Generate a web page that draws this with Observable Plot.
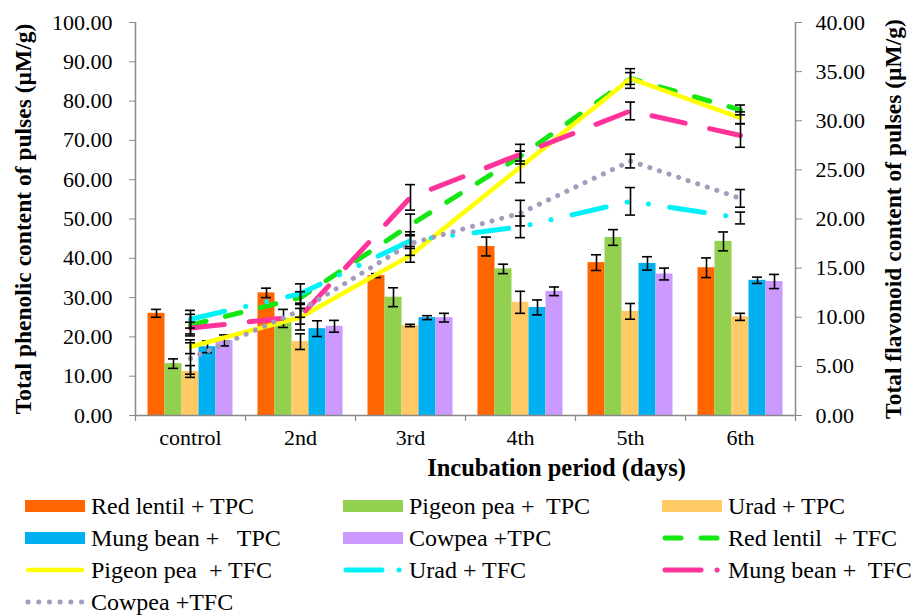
<!DOCTYPE html>
<html>
<head>
<meta charset="utf-8">
<script src="https://cdn.jsdelivr.net/npm/d3@7"></script>
<script src="https://cdn.jsdelivr.net/npm/@observablehq/plot@0.6"></script>
<style>
  html, body { margin: 0; padding: 0; background: #fff; }
  body { position: relative; width: 915px; height: 615px; overflow: hidden; font-family: "Liberation Serif", "Times New Roman", serif; }
  #chart svg { display: block; }
  .item { position: absolute; display: flex; align-items: center; height: 26px; line-height: 26px; font-size: 24px; white-space: pre; color: #000; font-family: "Liberation Serif", "Times New Roman", serif; }
  .item svg { margin-right: 6px; flex: none; }
</style>
</head>
<body>
<div id="chart"></div>
<div id="legend"></div>
<script>
// ---------- data ----------
const days = ["control", "2nd", "3rd", "4th", "5th", "6th"];
const leftTicks = [0, 10, 20, 30, 40, 50, 60, 70, 80, 90, 100];
const rightTicks = [0, 5, 10, 15, 20, 25, 30, 35, 40];

const tpcNames = ["Red lentil + TPC", "Pigeon pea +  TPC", "Urad + TPC", "Mung bean +   TPC", "Cowpea +TPC"];
const tpcColors = ["#ff6600", "#92d050", "#ffc966", "#00b0f0", "#cc99ff"];
const redLentilTPC = [26.0, 31.2, 35.6, 43.0, 38.9, 37.6];
const redLentilTPCErr = [1.0, 1.2, 0.5, 2.4, 2.0, 2.5];
const pigeonPeaTPC = [13.2, 24.7, 30.1, 37.3, 45.3, 44.3];
const pigeonPeaTPCErr = [1.2, 2.3, 2.4, 1.2, 2.0, 2.4];
const uradTPC = [11.2, 18.8, 22.9, 28.8, 26.5, 25.1];
const uradTPCErr = [1.5, 2.0, 0.3, 2.8, 2.0, 0.9];
const mungBeanTPC = [17.5, 22.1, 24.9, 27.5, 38.7, 34.4];
const mungBeanTPCErr = [1.5, 2.0, 0.5, 1.9, 1.7, 0.8];
const cowpeaTPC = [19.1, 22.7, 24.9, 31.6, 36.0, 34.1];
const cowpeaTPCErr = [1.4, 1.5, 1.1, 1.1, 1.5, 1.8];

const tfcNames = ["Red lentil  + TFC", "Pigeon pea  + TFC", "Urad + TFC", "Mung bean +  TFC", "Cowpea +TFC"];
const tfcColors = ["#14e614", "#ffff00", "#00f2f8", "#ff3399", "#a39cbd"];
const redLentilTFC = [9.2, 12.0, 19.4, 26.4, 34.3, 31.1];
const redLentilTFCErr = [1.1, 0.6, 1.1, 0.5, 1.0, 0.5];
const pigeonPeaTFC = [7.0, 10.0, 16.3, 25.3, 34.3, 30.3];
const pigeonPeaTFCErr = [0.7, 1.3, 0.7, 1.6, 0.6, 0.6];
const uradTFC = [9.8, 12.4, 17.8, 19.2, 21.8, 20.1];
const uradTFCErr = [0.9, 1.0, 0.6, 1.1, 1.4, 0.6];
const mungBeanTFC = [8.9, 10.1, 22.2, 26.6, 31.0, 28.5];
const mungBeanTFCErr = [0.6, 0.8, 1.3, 1.0, 0.9, 1.2];
const cowpeaTFC = [5.8, 10.7, 17.5, 20.6, 25.9, 22.1];
const cowpeaTFCErr = [1.6, 0.7, 1.2, 1.3, 0.7, 0.9];

const leftTitle = "Total phenolic content of pulses (µM/g)";
const rightTitle = "Total flavonoid content of pulses (µM/g)";
const xTitle = "Incubation period (days)";

// ---------- layout / style ----------
const W = 915, H = 485;
const ML = 135, MR = 120, MT = 22, MB = 70;
const RATIO = 100 / 40; // right-axis units -> left-axis units
const bandW = (W - ML - MR) / days.length;
const barW = 17, groupW = barW * 5, capW = 10;
const tfcWidths = [5, 4.5, 5, 5, 5];
const tfcDash = ["16,20", null, "35,21.5,0.1,21.5,0.1,21.5", "34,25", "0.1,10"];
const tfcLegendDash = ["16,20", null, "36,17,0.1,30", "36,16,0.1,30", "0.1,10.6"];

const tpcValues = [redLentilTPC, pigeonPeaTPC, uradTPC, mungBeanTPC, cowpeaTPC];
const tpcErrors = [redLentilTPCErr, pigeonPeaTPCErr, uradTPCErr, mungBeanTPCErr, cowpeaTPCErr];
const tfcValues = [redLentilTFC, pigeonPeaTFC, uradTFC, mungBeanTFC, cowpeaTFC];
const tfcErrors = [redLentilTFCErr, pigeonPeaTFCErr, uradTFCErr, mungBeanTFCErr, cowpeaTFCErr];

const errStyle = {stroke: "black", strokeWidth: 1.6};
function errorMarks(rows, y, dx) {
  return [
    Plot.ruleX(rows, {x: "day", y1: d => y(d.v - d.e), y2: d => y(d.v + d.e), dx, ...errStyle}),
    Plot.tickY(rows, {x: "day", y: d => y(d.v - d.e), dx, insetLeft: bandW / 2 - capW / 2, insetRight: bandW / 2 - capW / 2, ...errStyle}),
    Plot.tickY(rows, {x: "day", y: d => y(d.v + d.e), dx, insetLeft: bandW / 2 - capW / 2, insetRight: bandW / 2 - capW / 2, ...errStyle})
  ];
}

const marks = [];
// bars
const barErr = [];
tpcValues.forEach((vals, s) => {
  const rows = days.map((d, i) => ({day: d, v: vals[i], e: tpcErrors[s][i]}));
  const left = -groupW / 2 + barW * s;
  marks.push(Plot.barY(rows, {x: "day", y: "v", fill: tpcColors[s], insetLeft: bandW / 2 + left, insetRight: bandW / 2 - left - barW}));
  barErr.push(...errorMarks(rows, v => v, left + barW / 2));
});
marks.push(...barErr);

// axis lines
marks.push(Plot.ruleY([0], {stroke: "#898989", strokeWidth: 1.5}));
marks.push(Plot.ruleX([days[0]], {x: d => d, dx: -bandW / 2, stroke: "#898989", strokeWidth: 1.5}));
marks.push(Plot.ruleX([days[days.length - 1]], {x: d => d, dx: bandW / 2, stroke: "#898989", strokeWidth: 1.5}));
// category boundary ticks
marks.push(Plot.ruleX(days, {x: d => d, dx: -bandW / 2, insetTop: H - MT - MB, insetBottom: -6, stroke: "#898989", strokeWidth: 1.2}));
marks.push(Plot.ruleX([days[days.length - 1]], {x: d => d, dx: bandW / 2, insetTop: H - MT - MB, insetBottom: -6, stroke: "#898989", strokeWidth: 1.2}));

// lines
tfcValues.forEach((vals, s) => {
  const rows = days.map((d, i) => ({day: d, v: vals[i], e: tfcErrors[s][i]}));
  marks.push(Plot.lineY(rows, {x: "day", y: d => d.v * RATIO, stroke: tfcColors[s], strokeWidth: tfcWidths[s],
    strokeDasharray: tfcDash[s] || undefined, strokeLinecap: "round", strokeLinejoin: "round"}));
});
tfcValues.forEach((vals, s) => {
  const rows = days.map((d, i) => ({day: d, v: vals[i], e: tfcErrors[s][i]}));
  marks.push(...errorMarks(rows, v => v * RATIO, 0));
});

// axes
marks.push(Plot.axisY({anchor: "left", ticks: leftTicks, tickFormat: d => d.toFixed(2), tickSize: 6, tickPadding: 17, label: null, fontSize: 22}));
marks.push(Plot.axisY({anchor: "right", ticks: rightTicks.map(t => t * RATIO), tickFormat: d => (d / RATIO).toFixed(2), tickSize: 6, tickPadding: 14, label: null, fontSize: 22}));
marks.push(Plot.axisX({tickSize: 0, tickPadding: 14, label: null, fontSize: 22}));

// titles
marks.push(Plot.text([leftTitle], {text: d => d, frameAnchor: "left", rotate: -90, dx: -112, textAnchor: "middle", lineAnchor: "middle", fontWeight: "bold", fontSize: 23.5}));
marks.push(Plot.text([rightTitle], {text: d => d, frameAnchor: "right", rotate: -90, dx: 98, textAnchor: "middle", lineAnchor: "middle", fontWeight: "bold", fontSize: 23.5}));
marks.push(Plot.text([xTitle], {text: d => d, frameAnchor: "bottom", dx: 91, dy: 53, textAnchor: "middle", lineAnchor: "middle", fontWeight: "bold", fontSize: 24.5}));

const chart = Plot.plot({
  width: W, height: H,
  marginLeft: ML, marginRight: MR, marginTop: MT, marginBottom: MB,
  x: {domain: days, padding: 0},
  y: {domain: [0, 100]},
  style: {fontFamily: "'Liberation Serif', 'Times New Roman', serif", fontSize: "22px", background: "white", color: "black", overflow: "visible"},
  marks
});
chart.querySelectorAll('g[aria-label$="axis tick"]').forEach(g => g.setAttribute("stroke", "#898989"));
document.getElementById("chart").appendChild(chart);

// ---------- legend ----------
const legendItems = [
  ...tpcNames.map((n, s) => ({name: n, type: "rect", color: tpcColors[s]})),
  ...tfcNames.map((n, s) => ({name: n, type: "line", color: tfcColors[s], dash: tfcLegendDash[s], w: tfcWidths[s]}))
];
const colX = [25, 343, 662];
const legend = document.getElementById("legend");
legendItems.forEach((it, i) => {
  const r = Math.floor(i / 3), c = i % 3;
  const div = document.createElement("div");
  div.className = "item";
  div.style.left = colX[c] + "px";
  div.style.top = (493 + r * 32) + "px";
  const ns = "http://www.w3.org/2000/svg";
  const sw = document.createElementNS(ns, "svg");
  sw.setAttribute("width", 60); sw.setAttribute("height", 16);
  if (it.type === "rect") {
    const rc = document.createElementNS(ns, "rect");
    rc.setAttribute("x", 0); rc.setAttribute("y", 2); rc.setAttribute("width", 60); rc.setAttribute("height", 12);
    rc.setAttribute("fill", it.color);
    sw.appendChild(rc);
  } else {
    const ln = document.createElementNS(ns, "line");
    ln.setAttribute("x1", 3); ln.setAttribute("x2", 57); ln.setAttribute("y1", 8); ln.setAttribute("y2", 8);
    ln.setAttribute("stroke", it.color); ln.setAttribute("stroke-width", it.w);
    ln.setAttribute("stroke-linecap", "round");
    if (it.dash) ln.setAttribute("stroke-dasharray", it.dash);
    sw.appendChild(ln);
  }
  div.appendChild(sw);
  div.appendChild(document.createTextNode(it.name));
  legend.appendChild(div);
});
</script>
</body>
</html>
